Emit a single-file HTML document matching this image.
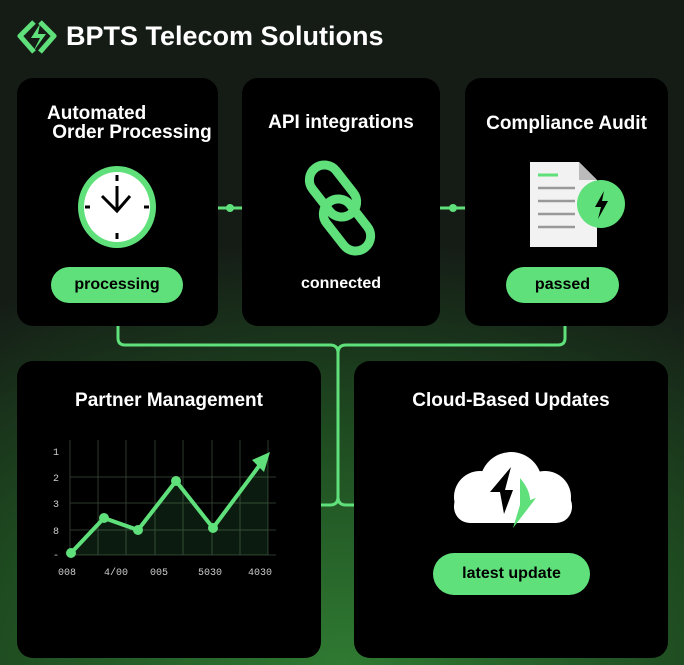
<!DOCTYPE html>
<html><head><meta charset="utf-8"><style>
html,body{margin:0;padding:0}
body{width:684px;height:665px;overflow:hidden;position:relative;font-family:"Liberation Sans",sans-serif;
background:radial-gradient(ellipse 120% 80% at 50% 100%,#2f7a32 0%,#1e4a20 45%,#151c16 80%),#151a16;}
.card{position:absolute;background:#000;border-radius:16px}
.t{position:absolute;color:#fff;font-size:19px;font-weight:bold;text-align:center;white-space:nowrap}
.pill{position:absolute;background:#5fe07a;border-radius:20px;color:#000;font-size:16px;font-weight:bold;text-align:center}
</style></head><body>
<svg width="684" height="665" style="position:absolute;left:0;top:0">
<g stroke="#5fe07a" stroke-width="3" fill="none">
<path d="M118 326 V338 Q118 345 125 345 H330 Q338 345 338 353 V497 Q338 505 330 505 H321"/>
<path d="M565 326 V338 Q565 345 558 345 H346 Q338 345 338 353 V497 Q338 505 346 505 H354"/>
<path d="M218 208 H242 M440 208 H465"/>
</g>
<circle cx="230" cy="208" r="4" fill="#5fe07a"/><circle cx="453" cy="208" r="4" fill="#5fe07a"/>
<path d="M34 22 L20 36 L34 52 M40 22 L54 36 L40 52" stroke="#5fe07a" stroke-width="5" fill="none" stroke-linejoin="round"/>
<path d="M40 24 L31 38 H40 L33 52 L46 34 H38 Z" fill="#5fe07a"/>
</svg>
<div class="t" style="left:66px;top:21px;font-size:27px">BPTS Telecom Solutions</div>
<div class="card" style="left:17px;top:78px;width:201px;height:248px"></div>
<div class="card" style="left:242px;top:78px;width:198px;height:248px"></div>
<div class="card" style="left:465px;top:78px;width:203px;height:248px"></div>
<div class="card" style="left:17px;top:361px;width:304px;height:297px"></div>
<div class="card" style="left:354px;top:361px;width:314px;height:297px"></div>
<div class="t" style="left:47px;top:104px;text-align:left;line-height:19px">Automated<br>&nbsp;Order Processing</div>
<div class="t" style="left:242px;top:112px;width:198px">API integrations</div>
<div class="t" style="left:465px;top:113px;width:203px">Compliance Audit</div>
<div class="t" style="left:17px;top:390px;width:304px">Partner Management</div>
<div class="t" style="left:354px;top:390px;width:314px">Cloud-Based Updates</div>
<div class="pill" style="left:51px;top:267px;width:132px;height:36px;line-height:36px">processing</div>
<div class="t" style="left:242px;top:275px;width:198px;font-size:16px">connected</div>
<div class="pill" style="left:506px;top:267px;width:113px;height:36px;line-height:36px">passed</div>
<div class="pill" style="left:433px;top:553px;width:157px;height:42px;line-height:42px;border-radius:22px">latest update</div>
<svg width="684" height="665" style="position:absolute;left:0;top:0">
<ellipse cx="117" cy="207" rx="39" ry="41" fill="#5fe07a"/>
<ellipse cx="117" cy="207" rx="33" ry="35" fill="#fff"/>
<g stroke="#000" stroke-width="3"><path d="M117 175 V181 M117 233 V239 M85 207 H90 M144 207 H149"/></g>
<path d="M117 186 V211 M102 196 L117 211 L130 196" stroke="#000" stroke-width="3" fill="none"/>
<g stroke="#5fe07a" stroke-width="9" fill="none">
<rect x="318" y="162" width="30" height="58" rx="15" transform="rotate(-38 333 191)"/>
<rect x="332" y="196" width="30" height="58" rx="15" transform="rotate(-38 347 225)"/>
</g>
<path d="M530 162 H579 L597 180 V247 H530 Z" fill="#f2f2f2"/>
<path d="M579 162 V180 H597 Z" fill="#bbb"/>
<path d="M538 175 H558" stroke="#5fe07a" stroke-width="3"/>
<g stroke="#999" stroke-width="2.5"><path d="M538 188 H575 M538 201 H575 M538 214 H575 M538 227 H575"/></g>
<circle cx="601" cy="204" r="24" fill="#5fe07a"/>
<path d="M604 191 L595 207 H601 L598 219 L608 201 H602 Z" fill="#000"/>
<g stroke="#2d3a2d" stroke-width="1">
<path d="M70 440 V555 M98 440 V555 M126 440 V555 M155 440 V555 M183 440 V555 M212 440 V555 M240 440 V555 M268 440 V555"/>
<path d="M70 477 H276 M70 503 H276 M70 530 H276 M70 555 H276"/>
</g>
<path d="M71 553 L104 518 L138 530 L176 481 L213 528 L268 455 V555 H71 Z" fill="#5fe07a" fill-opacity="0.12"/>
<path d="M71 553 L104 518 L138 530 L176 481 L213 528 L262 462" stroke="#5fe07a" stroke-width="4" fill="none" stroke-linejoin="round"/>
<path d="M270 452 L252 460 L264 472 Z" fill="#5fe07a"/>
<g fill="#5fe07a"><circle cx="71" cy="553" r="5"/><circle cx="104" cy="518" r="5"/><circle cx="138" cy="530" r="5"/><circle cx="176" cy="481" r="5"/><circle cx="213" cy="528" r="5"/></g>
<g fill="#ccc" font-size="10" font-family="Liberation Mono,monospace">
<text x="53" y="455">1</text><text x="53" y="481">2</text><text x="53" y="507">3</text><text x="53" y="534">8</text><text x="53" y="558">-</text>
<text x="58" y="575">008</text><text x="104" y="575">4/00</text><text x="150" y="575">005</text><text x="198" y="575">5030</text><text x="248" y="575">4030</text>
</g>
<g fill="#fff">
<circle cx="511" cy="483" r="31"/><circle cx="480" cy="497" r="26"/><circle cx="545" cy="497" r="26"/>
<rect x="454" y="490" width="118" height="33" rx="16"/>
</g>
<path d="M511 467 L490 492 H500 L504 514 L513 490 H505 Z" fill="#000"/>
<path d="M520 478 Q530 490 530 500 L536 498 L513 528 L520 505 Z" fill="#5fe07a"/>
</svg>
</body></html>
